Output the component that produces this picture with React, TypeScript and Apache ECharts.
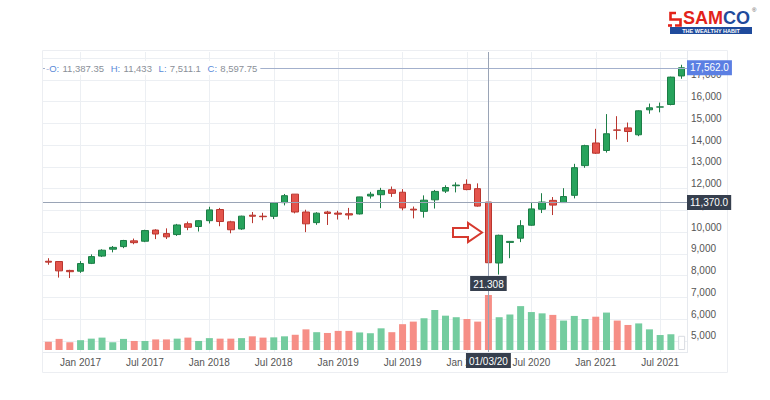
import React, { useEffect, useRef } from 'react';
import * as echarts from 'echarts';

const months = [
  '2016-10', '2016-11', '2016-12',
  '2017-01', '2017-02', '2017-03', '2017-04', '2017-05', '2017-06', '2017-07', '2017-08', '2017-09', '2017-10', '2017-11', '2017-12',
  '2018-01', '2018-02', '2018-03', '2018-04', '2018-05', '2018-06', '2018-07', '2018-08', '2018-09', '2018-10', '2018-11', '2018-12',
  '2019-01', '2019-02', '2019-03', '2019-04', '2019-05', '2019-06', '2019-07', '2019-08', '2019-09', '2019-10', '2019-11', '2019-12',
  '2020-01', '2020-02', '2020-03', '2020-04', '2020-05', '2020-06', '2020-07', '2020-08', '2020-09', '2020-10', '2020-11', '2020-12',
  '2021-01', '2021-02', '2021-03', '2021-04', '2021-05', '2021-06', '2021-07', '2021-08', '2021-09',
];

const opens = [
  8666, 8654, 8244,
  8210, 8570, 8904, 9220, 9339, 9604, 9587, 10101, 9937, 9893, 10390, 10263,
  10532, 11044, 10479, 10151, 10783, 10738, 10732, 11360, 11752, 10930, 10442, 10930,
  10881, 10852, 10842, 11665, 11725, 11954, 11840, 11061, 10960, 11491, 11891, 12137,
  12202, 12004, 11387.35, 8585, 9533, 9726, 10323, 11058, 11465, 11364, 11697, 13063,
  14104, 13759, 14702, 14798, 14481, 15629, 15755, 15874, 17185,
];

const closes = [
  8626, 8224, 8186,
  8561, 8880, 9174, 9304, 9621, 9521, 10077, 9918, 9789, 10335, 10227, 10531,
  11028, 10493, 10114, 10739, 10736, 10714, 11357, 11681, 10930, 10387, 10877, 10863,
  10831, 10793, 11624, 11748, 11923, 11789, 11118, 11023, 11474, 11877, 12056, 12168,
  11962, 11202, 8597.75, 9860, 9580, 10302, 11073, 11388, 11248, 11642, 12969, 13982,
  13635, 14529, 14691, 14631, 15583, 15722, 15763, 17132, 17562,
];

const highs = [
  8806, 8669, 8274,
  8672, 8982, 9218, 9367, 9650, 9709, 10115, 10138, 10179, 10384, 10490, 10553,
  11171, 11118, 10526, 10760, 10930, 10893, 11366, 11760, 11752, 11035, 10922, 10985,
  10987, 11119, 11630, 11856, 12041, 12103, 11982, 11182, 11695, 11945, 12158, 12294,
  12430, 12247, 11433, 9890, 9598, 10554, 11342, 11794, 11618, 12026, 13146, 14024,
  14754, 15432, 15336, 15044, 15606, 15916, 15962, 17153, 17700,
];

const lows = [
  8506, 7916, 7894,
  8133, 8537, 8860, 9075, 9269, 9448, 9544, 9685, 9688, 9831, 10094, 10033,
  10404, 10277, 9952, 10111, 10418, 10551, 10605, 11235, 10867, 10005, 10342, 10334,
  10584, 10586, 10817, 11549, 11108, 11626, 11006, 10637, 10671, 11090, 11803, 11833,
  11929, 11176, 7511.1, 8055, 8807, 9545, 10300, 10882, 10790, 11347, 11557, 12963,
  13597, 13662, 14265, 14151, 14417, 15450, 15514, 15835, 17055,
];

const volumes = [
  3.2, 4.3, 3.0,
  3.8, 4.4, 4.8, 3.0, 4.3, 3.5, 3.5, 4.1, 4.1, 4.4, 4.8, 3.5,
  4.6, 4.4, 4.4, 4.6, 5.3, 4.8, 4.9, 5.3, 5.9, 8.0, 6.9, 6.6,
  7.4, 7.4, 6.8, 6.5, 8.4, 6.9, 10.0, 11.0, 12.3, 15.5, 13.3, 12.7,
  12.0, 11.0, 21.308, 12.7, 13.8, 17.0, 14.7, 14.2, 13.6, 11.4, 13.2, 12.0,
  12.9, 14.5, 11.4, 9.7, 10.3, 8.0, 5.8, 6.1, 5.5,
];

const priceLabels = [5000, 6000, 7000, 8000, 9000, 10000, 11000, 12000, 13000, 14000, 15000, 16000, 17000];

const crossMonth = '2020-03';
const crossPrice = 11370;
const lastPrice = 17562;

const monthNames = ['Jan', 'Feb', 'Mar', 'Apr', 'May', 'Jun', 'Jul', 'Aug', 'Sep', 'Oct', 'Nov', 'Dec'];

const FONT = '"Liberation Sans", Arial, sans-serif';
const UP = '#27a35c';
const DOWN = '#e4544c';
const UP_VOL = '#74cc9f';
const DOWN_VOL = '#f68e86';
const GRID = '#eceff3';
const CROSS = '#9aa4b6';
const BOX = '#363f4e';

const isJanJul = (_i: number, v: string) => v.endsWith('-01') || v.endsWith('-07');
const fmtMonth = (v: string) => {
  const [y, m] = v.split('-');
  return `${monthNames[Number(m) - 1]} ${y}`;
};
const fmtNum = (v: number, d = 0) =>
  v.toLocaleString('en-US', { minimumFractionDigits: d, maximumFractionDigits: 2 });

export default function App() {
  const ref = useRef<HTMLDivElement>(null);

  useEffect(() => {
    if (!ref.current) return;
    const chart = echarts.init(ref.current, undefined, { renderer: 'svg' });
    const ci = months.indexOf(crossMonth);

    const option: any = {
      animation: false,
      backgroundColor: '#ffffff',
      textStyle: { fontFamily: FONT },
      grid: [
        { left: 43, width: 644, top: 52, height: 300 },
        { left: 43, width: 644, top: 295, height: 55 },
      ],
      xAxis: [
        {
          type: 'category', gridIndex: 0, data: months, boundaryGap: true,
          axisLine: { show: false }, axisTick: { show: false }, axisLabel: { show: false },
          splitLine: { show: true, interval: isJanJul, alignWithLabel: true, lineStyle: { color: GRID, width: 1 } },
        },
        {
          type: 'category', gridIndex: 1, data: months, boundaryGap: true,
          axisLine: { show: false }, axisTick: { show: false },
          axisLabel: { interval: isJanJul, formatter: fmtMonth, color: '#555', fontSize: 10, margin: 7, fontFamily: FONT },
          splitLine: { show: false },
        },
      ],
      yAxis: [
        {
          type: 'value', gridIndex: 0, position: 'right', min: 4494, max: 18287, splitNumber: 14,
          axisLine: { show: false }, axisTick: { show: false },
          axisLabel: {
            showMinLabel: false, showMaxLabel: false, color: '#555', fontSize: 10, margin: 4,
            verticalAlign: 'bottom', lineHeight: 10, fontFamily: FONT,
            formatter: (v: number) => (priceLabels.includes(v) ? fmtNum(v) : ''),
          },
          splitLine: { show: true, showMinLine: false, showMaxLine: false, lineStyle: { color: GRID, width: 1 } },
        },
        { type: 'value', gridIndex: 1, min: 0, max: 21.308, show: false, splitLine: { show: false } },
      ],
      series: [
        {
          type: 'candlestick', xAxisIndex: 0, yAxisIndex: 0, barWidth: 7,
          data: months.map((_, i) => [opens[i], closes[i], lows[i], highs[i]]),
          itemStyle: { color: UP, color0: DOWN, borderColor: '#1c7d46', borderColor0: '#b9362f', borderWidth: 1 },
          markLine: {
            silent: true, symbol: ['none', 'none'], animation: false,
            data: [
              {
                yAxis: lastPrice,
                lineStyle: { color: '#a3b0cc', width: 1, type: 'solid' },
                label: {
                  show: true, position: 'end', distance: 0, formatter: fmtNum(lastPrice, 1),
                  backgroundColor: '#5b7fe3', color: '#fff', padding: [3, 3, 2, 3], fontSize: 10, fontFamily: FONT,
                },
              },
              {
                yAxis: crossPrice,
                lineStyle: { color: CROSS, width: 1, type: 'solid' },
                label: {
                  show: true, position: 'end', distance: 0, formatter: fmtNum(crossPrice, 1),
                  backgroundColor: BOX, color: '#fff', padding: [3, 3, 2, 3], fontSize: 10, fontFamily: FONT,
                },
              },
              {
                xAxis: crossMonth,
                lineStyle: { color: CROSS, width: 1, type: 'solid' },
                label: {
                  show: true, position: 'start', distance: 1, formatter: '01/03/20',
                  backgroundColor: BOX, color: '#fff', padding: [3, 3, 2, 3], fontSize: 10, fontFamily: FONT,
                },
              },
            ],
          },
        },
        {
          type: 'bar', xAxisIndex: 1, yAxisIndex: 1, barWidth: 7,
          data: volumes.map((v, i) => ({
            value: v,
            itemStyle: i === volumes.length - 1
              ? { color: '#ffffff', borderColor: '#d8dbe1', borderWidth: 1 }
              : { color: closes[i] >= opens[i] ? UP_VOL : DOWN_VOL },
          })),
          markPoint: {
            silent: true, symbol: 'rect', symbolSize: 0, animation: false,
            data: [{ coord: [crossMonth, volumes[ci]] }],
            label: {
              show: true, position: 'top', distance: 4, formatter: volumes[ci].toFixed(3),
              backgroundColor: BOX, color: '#fff', padding: [3, 3, 2, 3], fontSize: 10, fontFamily: FONT,
            },
          },
        },
      ],
      graphic: [
        { type: 'rect', shape: { x: 42.5, y: 50.5, width: 685, height: 322 }, style: { fill: 'none', stroke: '#eceef2', lineWidth: 1 }, silent: true, z: -1 },
        { type: 'line', shape: { x1: 687.5, y1: 51, x2: 687.5, y2: 352 }, style: { stroke: '#e6e9ee', lineWidth: 1 }, silent: true },
        { type: 'line', shape: { x1: 43, y1: 352.5, x2: 688, y2: 352.5 }, style: { stroke: '#e6e9ee', lineWidth: 1 }, silent: true },
        {
          type: 'text', left: 45, top: 61, z: 10, silent: true,
          style: {
            text: `{d|-}{l|O:} {v|${fmtNum(opens[ci])}}  {l|H:} {v|${fmtNum(highs[ci])}}  {l|L:} {v|${fmtNum(lows[ci])}}  {l|C:} {v|${fmtNum(closes[ci])}}`,
            backgroundColor: '#fff', padding: [1, 3, 1, 1],
            rich: {
              d: { fill: '#9fb6dc', fontSize: 9.5, fontFamily: FONT },
              l: { fill: '#5a8ad8', fontSize: 9.5, fontFamily: FONT },
              v: { fill: '#8a8f98', fontSize: 9.5, fontFamily: FONT },
            },
          },
        },
        {
          type: 'polygon', silent: true, z: 10,
          shape: { points: [[453, 228], [468, 228], [468, 223], [482, 232.5], [468, 242], [468, 237], [453, 237]] },
          style: { fill: '#ffffff', stroke: '#d63a2f', lineWidth: 2 },
        },
        {
          type: 'polyline', silent: true, z: 10,
          shape: { points: [[676, 13], [670.5, 13], [670.5, 19.5], [680.5, 19.5], [680.5, 25.5], [675, 25.5]] },
          style: { stroke: '#e2231a', lineWidth: 2.6, fill: 'none' },
        },
        {
          type: 'polyline', silent: true, z: 10,
          shape: { points: [[668, 25.5], [672, 25.5]] },
          style: { stroke: '#e2231a', lineWidth: 2.6, fill: 'none' },
        },
        {
          type: 'text', left: 683, top: 9, z: 10, silent: true,
          style: {
            text: '{r|SAM}{b|CO}',
            rich: {
              r: { fill: '#e2231a', fontSize: 18, fontWeight: 'bold', fontFamily: FONT },
              b: { fill: '#1f4b9c', fontSize: 18, fontWeight: 'bold', fontFamily: FONT },
            },
          },
        },
        { type: 'text', left: 752, top: 7, z: 10, silent: true, style: { text: '®', fill: '#555', fontSize: 6, fontFamily: FONT } },
        { type: 'rect', silent: true, z: 10, shape: { x: 670, y: 27, width: 82, height: 7 }, style: { fill: '#1f4b9c' } },
        {
          type: 'text', x: 711, y: 30.8, z: 11, silent: true,
          style: { text: 'THE WEALTHY HABIT', fill: '#ffffff', fontSize: 5.5, fontWeight: 'bold', fontFamily: FONT, align: 'center', verticalAlign: 'middle' },
        },
      ],
    };

    chart.setOption(option);
    return () => chart.dispose();
  }, []);

  return <div ref={ref} style={{ position: 'absolute', left: 0, top: 0, width: 770, height: 400 }} />;
}
